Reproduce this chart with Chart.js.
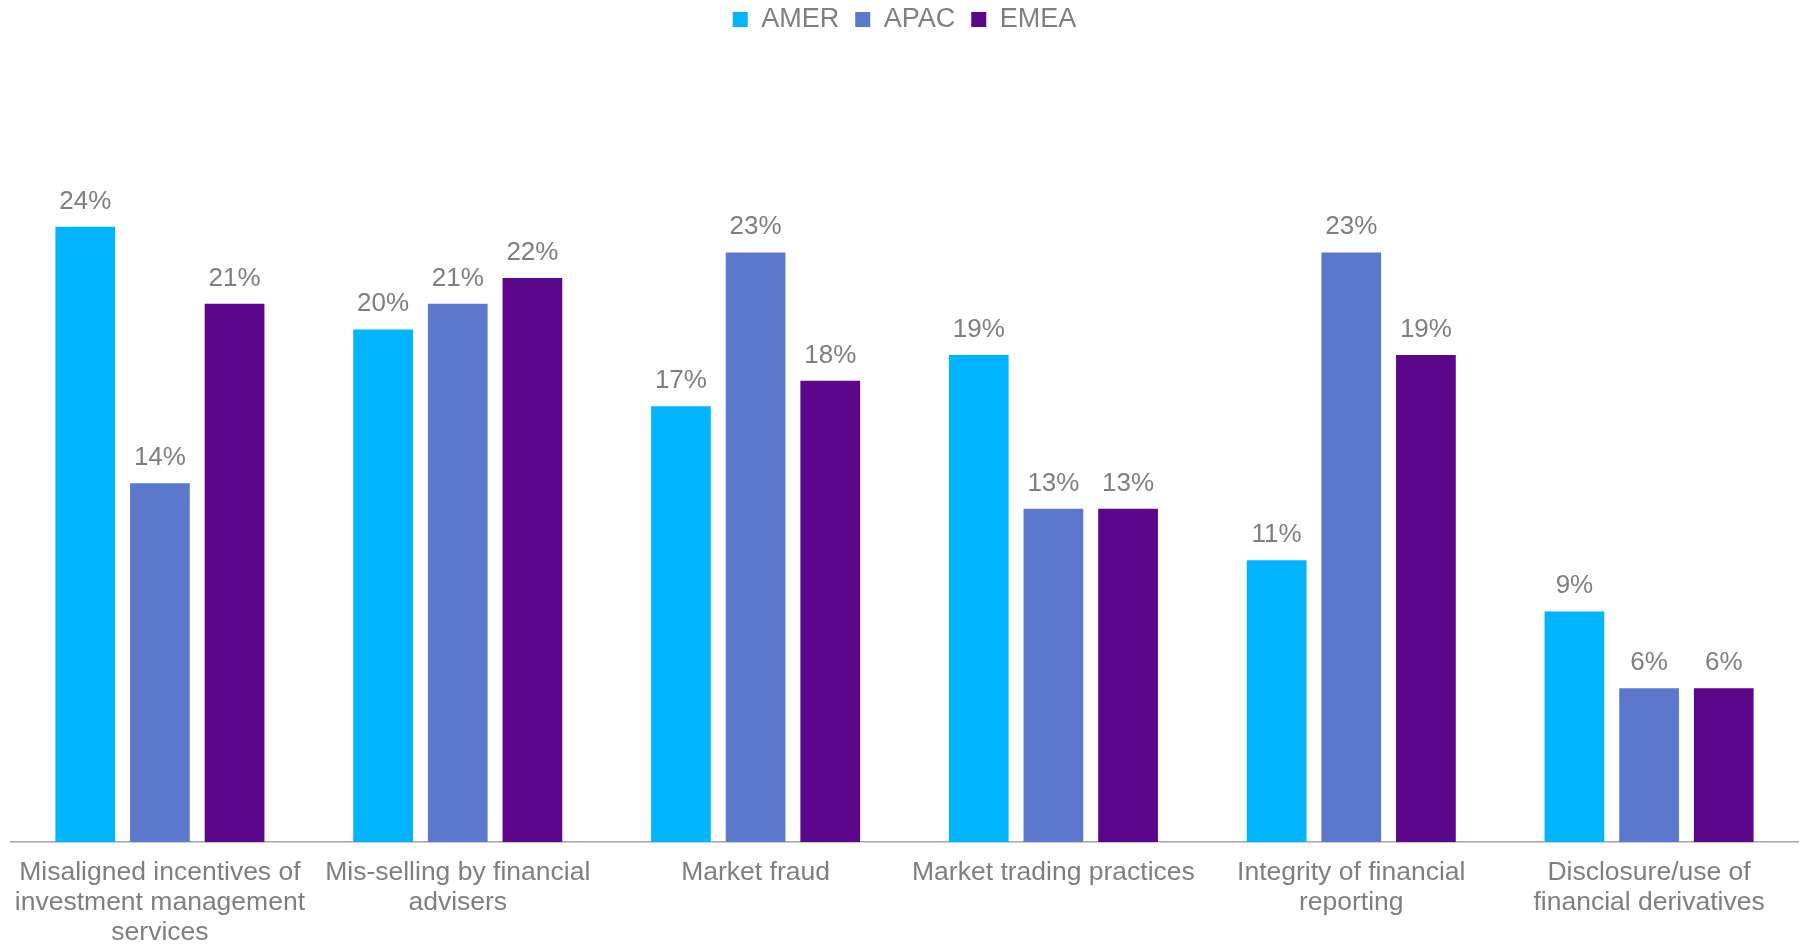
<!DOCTYPE html>
<html>
<head>
<meta charset="utf-8">
<script src="https://cdn.jsdelivr.net/npm/chart.js@4"></script>
<style>
  html, body { margin: 0; padding: 0; background: #ffffff; overflow: hidden; }
  #wrap { width: 1801px; height: 964px; position: relative; }
</style>
</head>
<body>
<div id="wrap"><canvas id="riskChart"></canvas></div>
<script>
const categories = [
  ["Misaligned incentives of", "investment management", "services"],
  ["Mis-selling by financial", "advisers"],
  "Market fraud",
  "Market trading practices",
  ["Integrity of financial", "reporting"],
  ["Disclosure/use of", "financial derivatives"]
];
const amer = [24, 20, 17, 19, 11, 9];
const apac = [14, 21, 23, 13, 23, 6];
const emea = [21, 22, 18, 13, 19, 6];

const textGrey = "#7f7f7f";
const fontFamily = "'Liberation Sans', Arial, sans-serif";

// draws the "24%" labels above each bar
const barLabels = {
  id: "barLabels",
  afterDatasetsDraw(chart) {
    const ctx = chart.ctx;
    ctx.save();
    ctx.font = "26px " + fontFamily;
    ctx.fillStyle = textGrey;
    ctx.textAlign = "center";
    ctx.textBaseline = "alphabetic";
    chart.data.datasets.forEach((ds, i) => {
      chart.getDatasetMeta(i).data.forEach((bar, j) => {
        ctx.fillText(ds.data[j] + "%", bar.x, bar.y - 18);
      });
    });
    ctx.restore();
  }
};

// give the legend a fixed height so the plot starts where it does in the original
const legendHeight = {
  id: "legendHeight",
  beforeInit(chart) {
    const fit = chart.legend.fit;
    chart.legend.fit = function () {
      fit.bind(chart.legend)();
      this.height = 83;
    };
  }
};

new Chart(document.getElementById("riskChart"), {
  type: "bar",
  data: {
    labels: categories,
    datasets: [
      { label: "AMER", data: amer, backgroundColor: "#00b4ff" },
      { label: "APAC", data: apac, backgroundColor: "#5b78cc" },
      { label: "EMEA", data: emea, backgroundColor: "#5c068c" }
    ]
  },
  options: {
    responsive: true,
    maintainAspectRatio: false,
    animation: false,
    layout: { padding: { left: 11, right: 3, top: -10, bottom: 0 } },
    datasets: {
      bar: { categoryPercentage: 0.752, barPercentage: 0.8 }
    },
    scales: {
      x: {
        grid: { display: false, drawTicks: false },
        border: { display: true, color: "#a6a6a6", width: 1.5 },
        ticks: {
          color: textGrey,
          padding: 16,
          maxRotation: 0,
          autoSkip: false,
          font: { family: fontFamily, size: 26.5, lineHeight: 1.13 }
        },
        // wide labels would otherwise push the plot inwards
        afterFit(scale) {
          scale.paddingLeft = 0;
          scale.paddingRight = 0;
        }
      },
      y: {
        display: false,
        min: 0,
        max: 30
      }
    },
    plugins: {
      legend: {
        position: "top",
        align: "center",
        labels: {
          boxWidth: 15,
          boxHeight: 15,
          padding: 16,
          color: textGrey,
          font: { family: fontFamily, size: 27 }
        }
      },
      tooltip: { enabled: false }
    }
  },
  plugins: [barLabels, legendHeight]
});
</script>
</body>
</html>
